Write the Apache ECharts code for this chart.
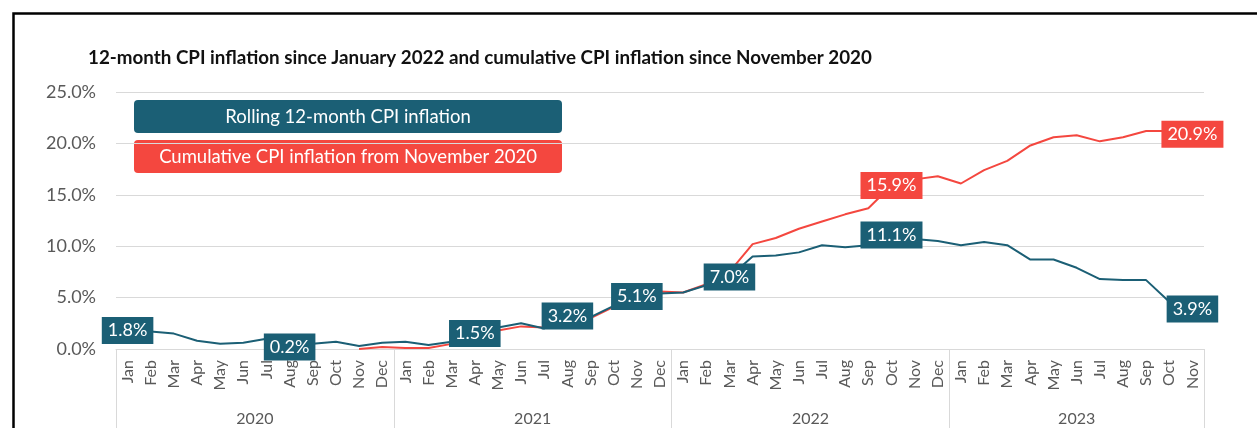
<!DOCTYPE html>
<html>
<head>
<meta charset="utf-8">
<script src="https://cdn.jsdelivr.net/npm/echarts@6/dist/echarts.min.js"></script>
<style>
  html, body { margin: 0; padding: 0; background: #fff; }
  #chart { width: 1257px; height: 428px; }
</style>
</head>
<body>
<div id="chart"></div>
<script>
// tick labels
const years = ['2020', '2021', '2022', '2023']
const monthNames = ['Jan', 'Feb', 'Mar', 'Apr', 'May', 'Jun', 'Jul', 'Aug', 'Sep', 'Oct', 'Nov', 'Dec']
const monthsIn2023 = 11
const yTicks = [0, 5, 10, 15, 20, 25]

// rolling 12-month CPI inflation, Jan 2020 .. Nov 2023 (%)
const rolling = [
  1.8, 1.7, 1.5, 0.8, 0.5, 0.6, 1.0, 0.2, 0.5, 0.7, 0.3, 0.6,
  0.7, 0.4, 0.7, 1.5, 2.1, 2.5, 2.0, 3.2, 3.1, 4.2, 5.1, 5.4,
  5.5, 6.2, 7.0, 9.0, 9.1, 9.4, 10.1, 9.9, 10.1, 11.1, 10.7, 10.5,
  10.1, 10.4, 10.1, 8.7, 8.7, 7.9, 6.8, 6.7, 6.7, 4.6, 3.9
]
// cumulative CPI inflation since Nov 2020, Nov 2020 .. Nov 2023 (%)
const cumulative = [
  0.0, 0.2,
  0.1, 0.1, 0.5, 1.2, 1.8, 2.2, 2.1, 2.8, 3.0, 4.1, 5.0, 5.6,
  5.5, 6.3, 7.5, 10.2, 10.8, 11.7, 12.4, 13.1, 13.7, 15.9, 16.5, 16.8,
  16.1, 17.4, 18.3, 19.8, 20.6, 20.8, 20.2, 20.6, 21.2, 21.2, 20.9
]
const cumulativeFrom = 'Nov 2020'
// points that carry a value label
const rollingLabelled = ['Jan 2020', 'Aug 2020', 'Apr 2021', 'Aug 2021', 'Nov 2021', 'Mar 2022', 'Oct 2022', 'Nov 2023']
const cumulativeLabelled = ['Oct 2022', 'Nov 2023']

const TEAL = '#1b5f75'
const RED = '#f4473f'
const GREY = '#595959'
const FONT = 'Lato'

// month categories
const categories = []
years.forEach((y, i) => {
  const n = i === years.length - 1 ? monthsIn2023 : 12
  monthNames.slice(0, n).forEach(m => categories.push(m + ' ' + y))
})

// year axis on half-month boundaries so the labels sit in the middle of each year block
const yearAxisData = []
const yearAt = {}
const blockEdges = []
let edge = 0
years.forEach((y, i) => {
  const n = i === years.length - 1 ? monthsIn2023 : 12
  blockEdges.push(edge * 2)
  yearAt[edge * 2 + n] = y
  edge += n
})
blockEdges.push(edge * 2)
for (let i = 0; i <= edge * 2; i++) yearAxisData.push('h' + i)

const cumStart = categories.indexOf(cumulativeFrom)
const cumulativeFull = categories.map((c, i) => (i < cumStart ? null : cumulative[i - cumStart]))

function pointLabel (color) {
  return {
    show: true,
    position: 'inside',
    formatter: p => p.value.toFixed(1) + '%',
    color: '#fff',
    fontFamily: FONT,
    fontSize: 18,
    backgroundColor: color,
    padding: [5, 6, 4, 6]
  }
}

function buildData (values, labelled, color) {
  return values.map((v, i) => {
    if (v == null) return null
    if (labelled.indexOf(categories[i]) >= 0) return { value: v, label: pointLabel(color) }
    return v
  })
}

const chart = echarts.init(document.getElementById('chart'))
chart.setOption({
  animation: false,
  title: {
    text: '12-month CPI inflation since January 2022 and cumulative CPI inflation since November 2020',
    left: 83,
    top: 43,
    textStyle: { fontFamily: FONT, fontSize: 18.8, fontWeight: 'bold', color: '#111' }
  },
  grid: { left: 116, right: 53, top: 92, bottom: 79 },
  xAxis: [
    {
      type: 'category',
      data: categories,
      boundaryGap: true,
      axisLine: { lineStyle: { color: '#d9d9d9', width: 1 } },
      axisTick: { show: false },
      axisLabel: {
        interval: 0,
        rotate: 90,
        margin: 11,
        fontFamily: FONT,
        fontSize: 16,
        color: GREY,
        formatter: v => v.split(' ')[0]
      }
    },
    {
      type: 'category',
      position: 'bottom',
      data: yearAxisData,
      boundaryGap: false,
      axisLine: { show: false },
      axisTick: {
        show: true,
        length: 82,
        interval: i => blockEdges.indexOf(i) >= 0,
        lineStyle: { color: '#d9d9d9', width: 1 }
      },
      axisLabel: {
        interval: i => yearAt[i] != null,
        margin: 62,
        fontFamily: FONT,
        fontSize: 16,
        color: GREY,
        formatter: (v, i) => yearAt[i] || ''
      }
    }
  ],
  yAxis: {
    type: 'value',
    min: yTicks[0],
    max: yTicks[yTicks.length - 1],
    interval: yTicks[1] - yTicks[0],
    axisLine: { show: false },
    axisTick: { show: false },
    splitLine: { lineStyle: { color: '#d9d9d9', width: 1 } },
    axisLabel: {
      margin: 20,
      fontFamily: FONT,
      fontSize: 18,
      color: GREY,
      formatter: v => v.toFixed(1) + '%'
    }
  },
  graphic: [
    {
      type: 'rect',
      left: 11,
      top: 11,
      shape: { width: 1400, height: 600 },
      style: { fill: 'none', stroke: '#000', lineWidth: 2.5 },
      silent: true
    },
    {
      type: 'group',
      left: 134,
      top: 100,
      children: [
        { type: 'rect', shape: { x: 0, y: 0, width: 428, height: 33, r: 4 }, style: { fill: TEAL } },
        {
          type: 'text',
          x: 214,
          y: 17,
          style: { text: 'Rolling 12-month CPI inflation', fill: '#fff', fontFamily: FONT, fontSize: 18.5, align: 'center', verticalAlign: 'middle' }
        }
      ]
    },
    {
      type: 'group',
      left: 134,
      top: 140,
      children: [
        { type: 'rect', shape: { x: 0, y: 0, width: 428, height: 33, r: 4 }, style: { fill: RED } },
        {
          type: 'text',
          x: 214,
          y: 17,
          style: { text: 'Cumulative CPI inflation from November 2020', fill: '#fff', fontFamily: FONT, fontSize: 18.5, align: 'center', verticalAlign: 'middle' }
        }
      ]
    }
  ],
  series: [
    {
      name: 'Cumulative CPI inflation from November 2020',
      type: 'line',
      data: buildData(cumulativeFull, cumulativeLabelled, RED),
      symbol: 'circle',
      symbolSize: 0,
      showAllSymbol: true,
      lineStyle: { color: RED, width: 2 },
      itemStyle: { color: RED },
      z: 2
    },
    {
      name: 'Rolling 12-month CPI inflation',
      type: 'line',
      data: buildData(rolling, rollingLabelled, TEAL),
      symbol: 'circle',
      symbolSize: 0,
      showAllSymbol: true,
      lineStyle: { color: TEAL, width: 2 },
      itemStyle: { color: TEAL },
      z: 3
    }
  ]
})
</script>
</body>
</html>
